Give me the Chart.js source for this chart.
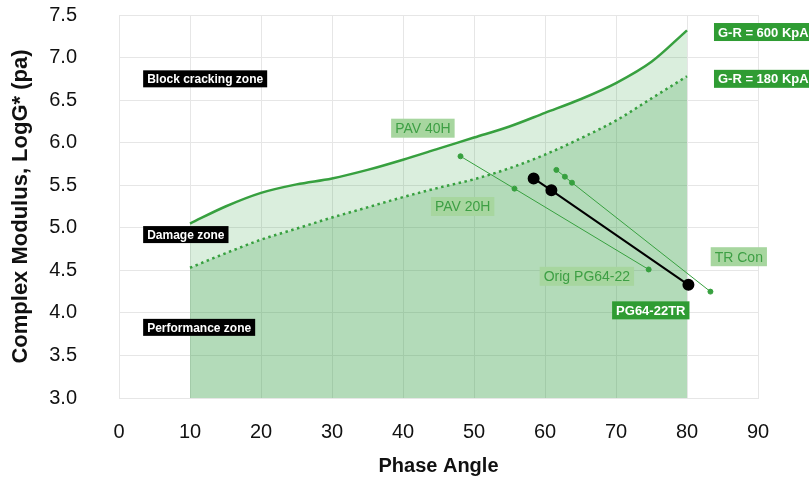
<!DOCTYPE html>
<html>
<head>
<meta charset="utf-8">
<script src="https://cdn.jsdelivr.net/npm/chart.js@4"></script>
<style>
  html, body { margin: 0; padding: 0; background: #fff; }
  #wrap { width: 809px; height: 482px; position: relative; }
</style>
</head>
<body>
<div id="wrap"><canvas id="gcChart"></canvas></div>
<script>
// boundary curves (phase angle vs log G*)
const boundaryAngles = [10, 15, 20, 25, 30, 35, 40, 45, 50, 55, 60, 65, 70, 75, 80];
const gr600 = [5.05, 5.25, 5.41, 5.51, 5.58, 5.68, 5.80, 5.93, 6.06, 6.19, 6.35, 6.51, 6.70, 6.95, 7.32];
const gr180 = [4.53, 4.70, 4.86, 4.99, 5.12, 5.24, 5.36, 5.47, 5.57, 5.70, 5.86, 6.05, 6.26, 6.52, 6.78];

// aging paths of the binders
const origAngles = [48.1, 55.7, 74.6];
const origValues = [5.84, 5.46, 4.51];
const trConAngles = [61.6, 62.8, 63.8, 83.3];
const trConValues = [5.68, 5.60, 5.53, 4.25];
const trAngles = [58.4, 60.9, 80.2];
const trValues = [5.58, 5.44, 4.33];

const xTicks = [0, 10, 20, 30, 40, 50, 60, 70, 80, 90];
const yTicks = [3.0, 3.5, 4.0, 4.5, 5.0, 5.5, 6.0, 6.5, 7.0, 7.5];

const green = '#37a03f';

function pts(xs, ys) {
    return xs.map((x, i) => ({ x: x, y: ys[i] }));
}

// text boxes placed in data units
const notes = [
    { text: 'Block cracking zone', x: 3.4, y: 6.75, kind: 'zone', align: 'left' },
    { text: 'Damage zone', x: 3.4, y: 4.92, kind: 'zone', align: 'left' },
    { text: 'Performance zone', x: 3.4, y: 3.83, kind: 'zone', align: 'left' },
    { text: 'G-R = 600 KpA', x: 83.8, y: 7.30, kind: 'dark', align: 'left' },
    { text: 'G-R = 180 KpA', x: 83.8, y: 6.75, kind: 'dark', align: 'left' },
    { text: 'PAV 40H', x: 42.8, y: 6.17, kind: 'light', align: 'center' },
    { text: 'PAV 20H', x: 48.4, y: 5.25, kind: 'light', align: 'center' },
    { text: 'Orig PG64-22', x: 65.9, y: 4.43, kind: 'light', align: 'center' },
    { text: 'TR Con', x: 87.3, y: 4.66, kind: 'light', align: 'center' },
    { text: 'PG64-22TR', x: 74.9, y: 4.03, kind: 'dark', align: 'center' }
];

const noteStyles = {
    zone:  { bg: '#000000', fg: '#ffffff', font: 'bold 12px "Liberation Sans", Arial, sans-serif', h: 17 },
    dark:  { bg: '#2f9c33', fg: '#ffffff', font: 'bold 13px "Liberation Sans", Arial, sans-serif', h: 18 },
    light: { bg: '#a7d69f', fg: '#3d9f44', font: '14px "Liberation Sans", Arial, sans-serif', h: 19 }
};

const notePlugin = {
    id: 'notes',
    afterDatasetsDraw(chart) {
        const ctx = chart.ctx;
        const xs = chart.scales.x, ys = chart.scales.y;
        ctx.save();
        notes.forEach(n => {
            const st = noteStyles[n.kind];
            ctx.font = st.font;
            const w = ctx.measureText(n.text).width + 8;
            const px = xs.getPixelForValue(n.x);
            const py = ys.getPixelForValue(n.y);
            const left = n.align === 'left' ? px : px - w / 2;
            ctx.fillStyle = st.bg;
            ctx.fillRect(left, py - st.h / 2, w, st.h);
            ctx.fillStyle = st.fg;
            ctx.textBaseline = 'middle';
            ctx.textAlign = 'left';
            ctx.fillText(n.text, left + 4, py + 1);
        });
        ctx.restore();
    }
};

const ctx = document.getElementById('gcChart').getContext('2d');

new Chart(ctx, {
    type: 'scatter',
    data: {
        datasets: [
            {
                label: 'G-R = 600 KpA',
                data: pts(boundaryAngles, gr600),
                order: 5,
                showLine: true,
                borderColor: green,
                borderWidth: 2.5,
                pointRadius: 0,
                cubicInterpolationMode: 'monotone',
                fill: '+1',
                backgroundColor: 'rgba(50,158,66,0.18)'
            },
            {
                label: 'G-R = 180 KpA',
                data: pts(boundaryAngles, gr180),
                order: 4,
                showLine: true,
                borderColor: green,
                borderWidth: 2.5,
                borderDash: [2.5, 3.5],
                pointRadius: 0,
                cubicInterpolationMode: 'monotone',
                fill: 'start',
                backgroundColor: 'rgba(50,158,66,0.37)'
            },
            {
                label: 'Orig PG64-22',
                data: pts(origAngles, origValues),
                order: 2,
                showLine: true,
                borderColor: green,
                backgroundColor: green,
                borderWidth: 1,
                pointRadius: 2.5,
                fill: false
            },
            {
                label: 'TR Con',
                data: pts(trConAngles, trConValues),
                order: 2,
                showLine: true,
                borderColor: green,
                backgroundColor: green,
                borderWidth: 1,
                pointRadius: 2.5,
                fill: false
            },
            {
                label: 'PG64-22TR',
                data: pts(trAngles, trValues),
                order: 1,
                showLine: true,
                borderColor: '#000',
                backgroundColor: '#000',
                borderWidth: 2,
                pointRadius: 5,
                fill: false
            }
        ]
    },
    options: {
        responsive: true,
        maintainAspectRatio: false,
        animation: false,
        layout: { padding: { top: 15, right: 51, left: 0, bottom: 0 } },
        plugins: {
            legend: { display: false },
            tooltip: { enabled: false }
        },
        scales: {
            x: {
                type: 'linear',
                min: 0,
                max: 90,
                afterBuildTicks: s => { s.ticks = xTicks.map(v => ({ value: v })); },
                afterFit: s => { s.height = 84; },
                grid: { color: '#e6e6e6', drawTicks: false },
                border: { color: '#e6e6e6' },
                ticks: {
                    padding: 22,
                    color: '#111',
                    font: { family: '"Liberation Sans", Arial', size: 20 }
                },
                title: {
                    display: true,
                    text: 'Phase Angle',
                    color: '#111',
                    padding: { top: 2 },
                    font: { family: '"Liberation Sans", Arial', size: 20, weight: 'bold' }
                }
            },
            y: {
                min: 3,
                max: 7.5,
                afterBuildTicks: s => { s.ticks = yTicks.map(v => ({ value: v })); },
                afterFit: s => { s.width = 119; s.paddingTop = 10; s.paddingBottom = 10; },
                grid: { color: '#e6e6e6', drawTicks: false },
                border: { color: '#e6e6e6' },
                ticks: {
                    padding: 42,
                    color: '#111',
                    callback: v => v.toFixed(1),
                    font: { family: '"Liberation Sans", Arial', size: 20 }
                },
                title: {
                    display: true,
                    text: 'Complex Modulus, LogG* (pa)',
                    color: '#111',
                    padding: { top: 8, bottom: 0 },
                    font: { family: '"Liberation Sans", Arial', size: 22, weight: 'bold' }
                }
            }
        }
    },
    plugins: [notePlugin]
});
</script>
</body>
</html>
